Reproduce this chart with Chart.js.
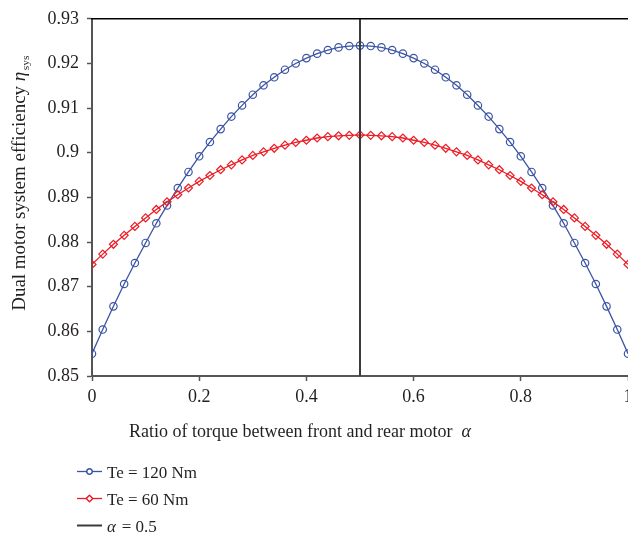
<!DOCTYPE html>
<html>
<head>
<meta charset="utf-8">
<script src="https://cdn.jsdelivr.net/npm/chart.js@4.4.0/dist/chart.umd.min.js"></script>
<style>
  html, body { margin: 0; padding: 0; background: #fff; overflow: hidden; }
  #wrap { width: 628px; height: 538px; overflow: hidden; }
</style>
</head>
<body>
<div id="wrap"><canvas id="chart" width="660" height="538"></canvas></div>
<script>
/* ---------- DATA ---------- */
const alphaValues = [0, 0.02, 0.04, 0.06, 0.08, 0.1, 0.12, 0.14, 0.16, 0.18, 0.2,
  0.22, 0.24, 0.26, 0.28, 0.3, 0.32, 0.34, 0.36, 0.38, 0.4,
  0.42, 0.44, 0.46, 0.48, 0.5, 0.52, 0.54, 0.56, 0.58, 0.6,
  0.62, 0.64, 0.66, 0.68, 0.7, 0.72, 0.74, 0.76, 0.78, 0.8,
  0.82, 0.84, 0.86, 0.88, 0.9, 0.92, 0.94, 0.96, 0.98, 1];

const eta120 = [0.8550, 0.8604, 0.8656, 0.8706, 0.8753, 0.8798, 0.8842, 0.8882, 0.8921, 0.8957, 0.8992,
  0.9024, 0.9053, 0.9081, 0.9106, 0.9130, 0.9151, 0.9169, 0.9186, 0.9200, 0.9212,
  0.9222, 0.9230, 0.9236, 0.9239, 0.9240, 0.9239, 0.9236, 0.9230, 0.9222, 0.9212,
  0.9200, 0.9186, 0.9169, 0.9151, 0.9130, 0.9106, 0.9081, 0.9053, 0.9024, 0.8992,
  0.8957, 0.8921, 0.8882, 0.8842, 0.8798, 0.8753, 0.8706, 0.8656, 0.8604, 0.8550];

const eta60 = [0.8750, 0.8773, 0.8795, 0.8815, 0.8835, 0.8854, 0.8873, 0.8890, 0.8906, 0.8921, 0.8936,
  0.8949, 0.8962, 0.8973, 0.8984, 0.8994, 0.9002, 0.9010, 0.9017, 0.9023, 0.9028,
  0.9033, 0.9036, 0.9038, 0.9039, 0.9040, 0.9039, 0.9038, 0.9036, 0.9033, 0.9028,
  0.9023, 0.9017, 0.9010, 0.9002, 0.8994, 0.8984, 0.8973, 0.8962, 0.8949, 0.8936,
  0.8921, 0.8906, 0.8890, 0.8873, 0.8854, 0.8835, 0.8815, 0.8795, 0.8773, 0.8750];

const refAlpha = [0.5, 0.5];
const refEta = [0.85, 0.93];

const xTickLabels = ["0", "0.2", "0.4", "0.6", "0.8", "1"];
const yTickLabels = ["0.85", "0.86", "0.87", "0.88", "0.89", "0.9", "0.91", "0.92", "0.93"];

const seriesLabels = ["Te = 120 Nm", "Te = 60 Nm", "\u03b1 = 0.5"];

/* ---------- STYLE ---------- */
const SERIF = "'Liberation Serif', 'DejaVu Serif', serif";
const TEXT = "#231f20";
const AXIS = "#555555";
const BLUE = "#3b54a5";
const RED = "#ed1c24";

function pts(xs, ys) {
  return xs.map((x, i) => ({ x: x, y: ys[i] }));
}

/* rich text: parts = [{t, italic, sub}] */
function richWidth(ctx, parts, size) {
  let w = 0;
  parts.forEach(p => {
    const s = p.sub ? size * 0.6 : size;
    ctx.font = (p.italic ? "italic " : "") + s + "px " + SERIF;
    w += ctx.measureText(p.t).width;
  });
  return w;
}
function drawRich(ctx, parts, x, y, size) {
  parts.forEach(p => {
    const s = p.sub ? size * 0.6 : size;
    ctx.font = (p.italic ? "italic " : "") + s + "px " + SERIF;
    ctx.fillText(p.t, x, p.sub ? y + 4 : y);
    x += ctx.measureText(p.t).width + (p.italic ? 1.5 : 0);
  });
}
function labelParts(txt) {
  // greek letters in italic
  const out = [];
  for (const ch of txt) {
    const it = /[\u03b1-\u03c9]/.test(ch);
    const last = out[out.length - 1];
    if (last && last.italic === it) last.t += ch;
    else out.push({ t: ch, italic: it });
  }
  return out;
}

/* ---------- DECORATION PLUGIN ---------- */
const decor = {
  id: "decor",
  afterDraw(chart) {
    const ctx = chart.ctx;
    const a = chart.chartArea;
    ctx.save();

    // top frame line
    ctx.strokeStyle = "#000";
    ctx.lineWidth = 1.5;
    ctx.beginPath();
    ctx.moveTo(a.left - 1, a.top);
    ctx.lineTo(a.right, a.top);
    ctx.stroke();

    ctx.fillStyle = TEXT;
    ctx.textBaseline = "alphabetic";

    // x title
    const xt = [{ t: "Ratio of torque between front and rear motor  " }, { t: "\u03b1", italic: true }];
    const xw = richWidth(ctx, xt, 18);
    drawRich(ctx, xt, 300 - xw / 2, 437, 18);

    // y title
    const yt = [{ t: "Dual motor system efficiency " }, { t: "\u03b7", italic: true }, { t: "sys", sub: true }];
    const yw = richWidth(ctx, yt, 19);
    ctx.save();
    ctx.translate(25, 184);
    ctx.rotate(-Math.PI / 2);
    drawRich(ctx, yt, -yw / 2, 0, 19);
    ctx.restore();

    // legend (vertical list)
    const rows = [471.5, 498.5, 525.5];
    chart.data.datasets.forEach((ds, i) => {
      const y = rows[i];
      ctx.strokeStyle = ds.borderColor;
      ctx.lineWidth = ds.borderWidth;
      ctx.beginPath();
      ctx.moveTo(77, y);
      ctx.lineTo(102, y);
      ctx.stroke();
      if (ds.pointRadius > 0) {
        ctx.fillStyle = "#fff";
        ctx.lineWidth = 1.2;
        Chart.helpers.drawPoint(ctx, {
          pointStyle: ds.pointStyle,
          radius: ds.pointStyle === "circle" ? 2.6 : 3.2,
          borderWidth: 1.2,
          rotation: 0
        }, 89.5, y);
        ctx.fill();
        ctx.stroke();
      }
      ctx.fillStyle = TEXT;
      drawRich(ctx, labelParts(ds.label), 107, y + 6, 17);
    });

    ctx.restore();
  }
};

/* ---------- CHART ---------- */
const ctx = document.getElementById("chart").getContext("2d");

new Chart(ctx, {
  type: "line",
  data: {
    datasets: [
      {
        label: seriesLabels[0],
        data: pts(alphaValues, eta120),
        borderColor: BLUE,
        borderWidth: 1.3,
        pointStyle: "circle",
        pointRadius: 3.7,
        pointBorderWidth: 1.2,
        pointBackgroundColor: "rgba(255,255,255,0)",
        pointBorderColor: BLUE,
        order: 2
      },
      {
        label: seriesLabels[1],
        data: pts(alphaValues, eta60),
        borderColor: RED,
        borderWidth: 1.3,
        pointStyle: "rectRot",
        pointRadius: 4,
        pointBorderWidth: 1.2,
        pointBackgroundColor: "rgba(255,255,255,0)",
        pointBorderColor: RED,
        order: 1
      },
      {
        label: seriesLabels[2],
        data: pts(refAlpha, refEta),
        borderColor: "#3a3a3a",
        borderWidth: 2,
        pointRadius: 0,
        order: 0
      }
    ]
  },
  options: {
    responsive: false,
    animation: false,
    events: [],
    layout: { padding: { left: 0, right: 32, top: 12.5, bottom: 0 } },
    plugins: {
      legend: { display: false },
      tooltip: { enabled: false }
    },
    scales: {
      x: {
        type: "linear",
        min: 0,
        max: 1,
        afterFit(s) { s.height = 162; },
        ticks: {
          stepSize: 0.2,
          color: TEXT,
          padding: 5,
          font: { family: SERIF, size: 18 },
          callback: v => xTickLabels[Math.round(v / 0.2)]
        },
        grid: { drawOnChartArea: false, tickLength: 5, tickColor: AXIS, tickWidth: 1.5 },
        border: { color: AXIS, width: 2 }
      },
      y: {
        min: 0.85,
        max: 0.93,
        afterFit(s) { s.width = 92; },
        ticks: {
          stepSize: 0.01,
          color: TEXT,
          padding: 8,
          font: { family: SERIF, size: 18 },
          callback: v => yTickLabels[Math.round((v - 0.85) / 0.01)]
        },
        grid: { drawOnChartArea: false, tickLength: 5, tickColor: AXIS, tickWidth: 1.5 },
        border: { color: AXIS, width: 2 }
      }
    }
  },
  plugins: [decor]
});
</script>
</body>
</html>
